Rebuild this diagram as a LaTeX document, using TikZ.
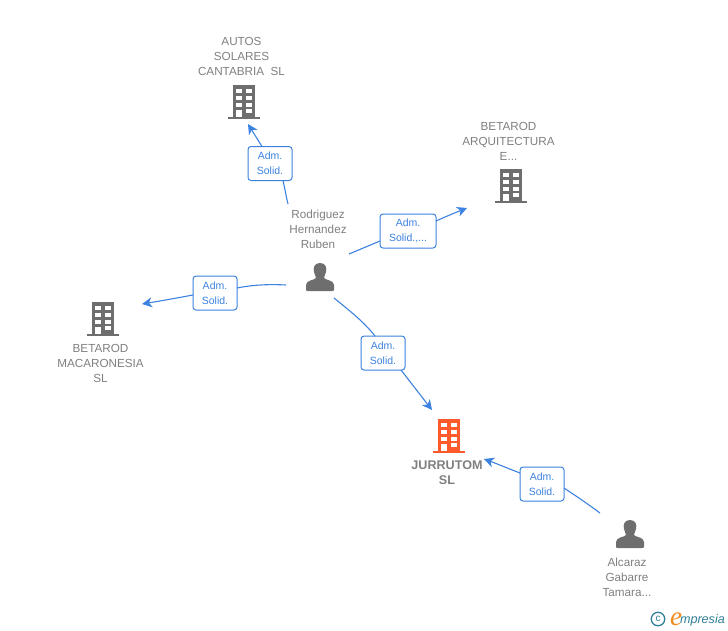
\documentclass[tikz,border=0pt]{standalone}
\usepackage{fontspec}
\setmainfont{Liberation Sans}
\newfontfamily\logoserif{Liberation Serif}
\usetikzlibrary{arrows.meta,calc}
\definecolor{txtgray}{HTML}{808080}
\definecolor{icongray}{HTML}{6E6E6E}
\definecolor{linkblue}{HTML}{3C82E0}
\definecolor{hotorange}{HTML}{FF5A2B}
\definecolor{logoteal}{HTML}{2F7F96}
\definecolor{logoorange}{HTML}{F28A1E}
\tikzset{
  x=1pt,y=-1pt,
  every node/.style={inner sep=0pt,outer sep=0pt},
  name label/.style={align=center,text=txtgray,font=\fontsize{11.7}{15}\selectfont},
  link box/.style={draw=linkblue,line width=1pt,rounded corners=3pt,fill=white,align=center,
    text=linkblue,font=\fontsize{10.5}{15}\selectfont,minimum height=34pt},
  link/.style={draw=linkblue,line width=1.1pt},
  link arrow/.style={link,-{Stealth[length=10pt,width=10pt,inset=3pt]}},
  icon anchor/.style={minimum width=26pt,minimum height=34pt},
  pics/building/.style={code={
    \fill[#1] (-11.5,-17) rectangle (11,15);
    \fill[#1] (-15.7,14.5) rectangle (15.5,16.5);
    \foreach \yy in {-12.7,-6,0.7}{
      \fill[white] (-8,\yy) rectangle (-2.3,{\yy+4});
      \fill[white] (2,\yy) rectangle (7.7,{\yy+4});
    }
    \fill[white] (-8,8) rectangle (-2.3,15);
    \fill[white] (2,6.5) rectangle (7.7,11);
  }},
  pics/person/.style={code={
    \fill[icongray] (0,-14) .. controls (-6,-14) and (-7,-9) .. (-6,-5)
      .. controls (-5.5,-2) and (-4,-1) .. (-4,1)
      .. controls (-5,3) and (-14,3) .. (-14,8)
      -- (-14,12.5) .. controls (-14,14) and (-13,14) .. (-12,14)
      -- (12,14) .. controls (13,14) and (14,14) .. (14,12.5)
      -- (14,8) .. controls (14,3) and (5,3) .. (4,1)
      .. controls (4,-1) and (5.5,-2) .. (6,-5)
      .. controls (7,-9) and (6,-14) .. (0,-14) -- cycle;
  }}
}
\begin{document}
\begin{tikzpicture}
\useasboundingbox (0,0) rectangle (728,630);
% icons
\pic at (244,102) {building=icongray};
\node[icon anchor] (iconAutos) at (244,102) {};
\pic at (511,186) {building=icongray};
\node[icon anchor] (iconArq) at (511,186) {};
\pic at (103,319) {building=icongray};
\node[icon anchor] (iconMac) at (103,319) {};
\pic at (449,436) {building=hotorange};
\node[icon anchor] (iconJur) at (449,436) {};
\pic at (320,277) {person};
\node[icon anchor] (iconRod) at (320,277) {};
\pic at (630,534) {person};
\node[icon anchor] (iconAlc) at (630,534) {};
% labels
\node[name label] (lblAutos) at (241.5,56.5) {AUTOS\\SOLARES\\CANTABRIA\ \ SL};
\node[name label] (lblArq) at (508.5,141) {BETAROD\\ARQUITECTURA\\E...};
\node[name label] (lblMac) at (100.5,363.5) {BETAROD\\MACARONESIA\\SL};
\node[name label,font=\fontsize{12.6}{15}\selectfont\bfseries] (lblJur) at (447,472.5) {JURRUTOM\\SL};
\node[name label] (lblRod) at (318,229) {Rodriguez\\Hernandez\\Ruben};
\node[name label] (lblAlc) at (627,577) {Alcaraz\\Gabarre\\Tamara...};
% link boxes
\node[link box,minimum width=44pt] (boxA) at (270,163.5) {Adm.\\Solid.};
\node[link box,minimum width=56pt] (boxB) at (408,231) {Adm.\\Solid.,...};
\node[link box,minimum width=44pt] (boxC) at (215,293) {Adm.\\Solid.};
\node[link box,minimum width=44pt] (boxD) at (383,353) {Adm.\\Solid.};
\node[link box,minimum width=44pt] (boxE) at (542,484) {Adm.\\Solid.};
% free ends
\coordinate (startA) at (288,204);
\coordinate (endA) at (248,124);
\coordinate (startB) at (349,254);
\coordinate (endB) at (467,208);
\coordinate (startC) at (286,285);
\coordinate (endC) at (142,304);
\coordinate (startD) at (334,298);
\coordinate (endD) at (432,410);
\coordinate (startE) at (600,513);
\coordinate (endE) at (484,459);
% connectors
\draw[link] (startA) .. controls (286,196) and (285,189) .. ([xshift=13pt]boxA.south);
\draw[link arrow] ([xshift=-8pt]boxA.north) -- (endA);
\draw[link] (startB) -- ([yshift=-10pt]boxB.west);
\draw[link arrow] ([yshift=10pt]boxB.east) .. controls (447,216) and (457,212) .. (endB);
\draw[link] (startC) .. controls (268,284) and (252,285) .. ([yshift=5pt]boxC.east);
\draw[link arrow] ([yshift=-2pt]boxC.west) .. controls (177,298) and (160,301) .. (endC);
\draw[link] (startD) .. controls (350,311) and (364,322) .. ([xshift=-8pt]boxD.north);
\draw[link arrow] ([xshift=18pt]boxD.south) -- (endD);
\draw[link] (startE) .. controls (588,504) and (576,496) .. ([yshift=-4pt]boxE.east);
\draw[link arrow] ([yshift=11pt]boxE.west) .. controls (507,468) and (495,463) .. (endE);
% logo
\node[circle,draw=logoteal,line width=1.3pt,minimum size=13.5pt,text=logoteal,font=\fontsize{10}{10}\selectfont] (logoC) at (658,619) {c};
\node[anchor=base west,text=logoorange,font=\logoserif\itshape\fontsize{27}{27}\selectfont] (logoE) at (670,625) {e};
\node[anchor=base west,text=logoteal,font=\itshape\fontsize{12.6}{13}\selectfont] (logoM) at (680,623) {mpresia};
\end{tikzpicture}
\end{document}
